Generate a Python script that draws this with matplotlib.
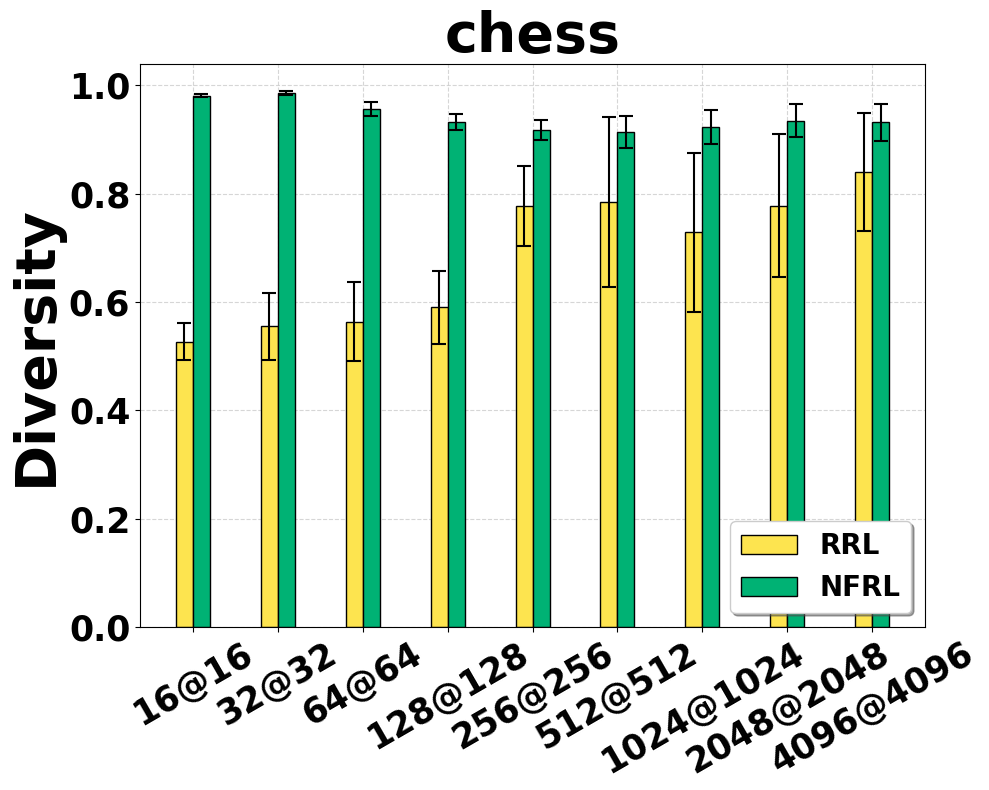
import matplotlib
matplotlib.use("Agg")
import matplotlib.pyplot as plt
import numpy as np

labels = ["16@16", "32@32", "64@64", "128@128", "256@256",
          "512@512", "1024@1024", "2048@2048", "4096@4096"]
rrl_mean = [0.527, 0.555, 0.564, 0.590, 0.778, 0.785, 0.729, 0.778, 0.840]
rrl_err = [0.034, 0.062, 0.073, 0.068, 0.074, 0.157, 0.147, 0.132, 0.109]
nfrl_mean = [0.981, 0.986, 0.957, 0.933, 0.918, 0.914, 0.923, 0.935, 0.932]
nfrl_err = [0.003, 0.004, 0.013, 0.015, 0.018, 0.030, 0.031, 0.030, 0.034]

x = np.arange(len(labels))
width = 0.2

fig = plt.figure(figsize=(9.89, 7.9), dpi=100)
ax = fig.add_axes([0.1416, 0.2063, 0.7937, 0.7127])

ax.bar(x - width / 2, rrl_mean, width, yerr=rrl_err, capsize=5,
       color="#FDE44F", edgecolor="black", linewidth=1, label="RRL",
       error_kw=dict(elinewidth=1.5, capthick=1.5))
ax.bar(x + width / 2, nfrl_mean, width, yerr=nfrl_err, capsize=5,
       color="#00B274", edgecolor="black", linewidth=1, label="NFRL",
       error_kw=dict(elinewidth=1.5, capthick=1.5))

ax.set_axisbelow(True)
ax.grid(True, linestyle="--", color="#cccccc", alpha=0.8)

ax.set_title("chess", fontsize=40, fontweight="bold")
ax.set_ylabel("Diversity", fontsize=40, fontweight="bold")
ax.set_xticks(x)
ax.set_xticklabels(labels, rotation=30, ha="center")
for lbl in ax.get_xticklabels() + ax.get_yticklabels():
    lbl.set_fontsize(25)
    lbl.set_fontweight("bold")

ax.legend(loc="lower right", prop={"size": 20, "weight": "bold"},
          shadow=True, fancybox=True)

fig.savefig("out.png", dpi=100)
